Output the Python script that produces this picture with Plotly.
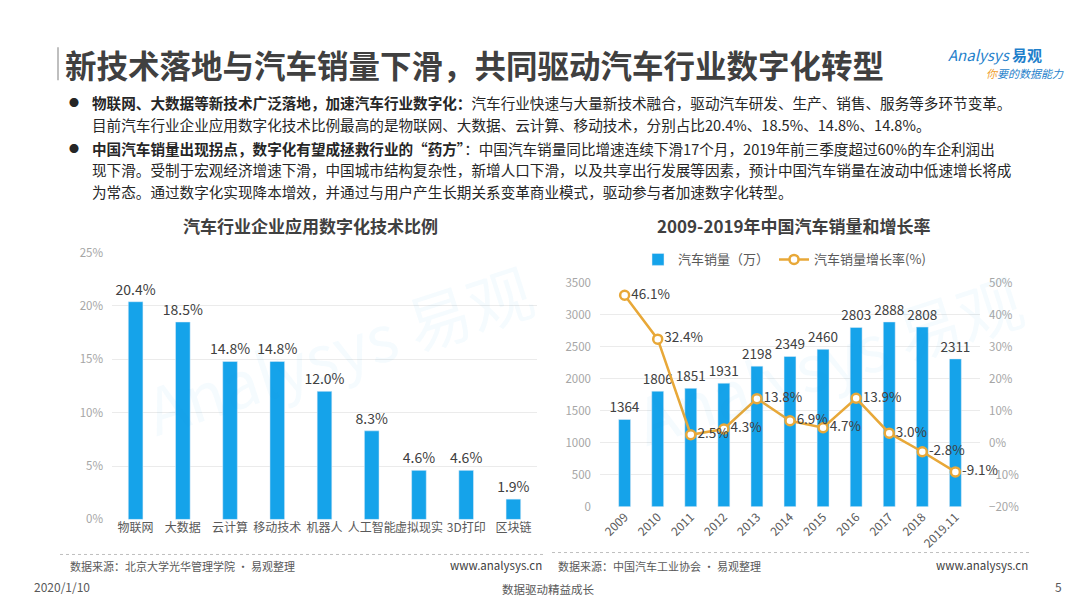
import plotly.graph_objects as go

# 左图数据
tech = ['物联网', '大数据', '云计算', '移动技术', '机器人', '人工智能', '虚拟现实', '3D打印', '区块链']
tech_pct = [20.4, 18.5, 14.8, 14.8, 12.0, 8.3, 4.6, 4.6, 1.9]

# 右图数据
years = ['2009', '2010', '2011', '2012', '2013', '2014', '2015', '2016', '2017', '2018', '2019.11']
sales = [1364, 1806, 1851, 1931, 2198, 2349, 2460, 2803, 2888, 2808, 2311]
growth = [46.1, 32.4, 2.5, 4.3, 13.8, 6.9, 4.7, 13.9, 3.0, -2.8, -9.1]

W, H = 1080, 608
FONT = 'Noto Sans CJK SC'
BLUE = '#15A3EA'
ORANGE = '#E8A838'


def px(x):
    return x / W


def py(y):
    return 1 - y / H


fig = go.Figure()

fig.add_trace(go.Bar(
    x=tech, y=tech_pct, xaxis='x', yaxis='y', marker_color=BLUE, width=0.31,
    text=[f'{v:.1f}%' for v in tech_pct], textposition='outside', cliponaxis=False,
    constraintext='none', textfont=dict(size=14, color='#404040'), showlegend=False
))

fig.add_trace(go.Bar(
    x=years, y=sales, xaxis='x2', yaxis='y2', marker_color=BLUE, width=0.36,
    name='汽车销量（万）', text=[str(v) for v in sales], textposition='outside',
    cliponaxis=False, constraintext='none', textfont=dict(size=13.5, color='#404040')
))

fig.add_trace(go.Scatter(
    x=years, y=growth, xaxis='x2', yaxis='y3', mode='lines+markers+text',
    name='汽车销量增长率(%)', line=dict(color=ORANGE, width=2.5),
    marker=dict(size=9, color='white', line=dict(color=ORANGE, width=2.5)),
    text=[f'{v:.1f}%' for v in growth], textposition='middle right',
    textfont=dict(size=13.5, color='#404040'), cliponaxis=False
))

tickfont = dict(size=11.5, color='#A6A6A6')

fig.update_layout(
    width=W, height=H, margin=dict(l=0, r=0, t=0, b=0),
    paper_bgcolor='white', plot_bgcolor='rgba(0,0,0,0)',
    font=dict(family=FONT, color='#404040'),
    xaxis=dict(domain=[px(104), px(529)], tickangle=0, tickfont=dict(size=12, color='#595959'),
               showline=False, ticks=''),
    yaxis=dict(domain=[py(516), py(242)], range=[0, 25], dtick=5, ticksuffix='%',
               tickfont=tickfont, gridcolor='#EBEBEB', zeroline=False, ticklabelstandoff=8),
    xaxis2=dict(domain=[px(592), px(972)], anchor='y2', tickangle=-45,
                tickfont=dict(size=12, color='#595959'), ticks=''),
    yaxis2=dict(domain=[py(503), py(273)], anchor='x2', range=[0, 3500], dtick=500,
                tickfont=tickfont, gridcolor='#EBEBEB', zeroline=False, ticklabelstandoff=8),
    yaxis3=dict(overlaying='y2', anchor='x2', side='right', range=[-20, 50], dtick=10,
                ticksuffix='%', tickfont=tickfont, showgrid=False, zeroline=False,
                ticklabelstandoff=8),
    legend=dict(orientation='h', x=px(630), y=py(249), yanchor='middle', xanchor='left',
                font=dict(size=13, color='#595959'), bgcolor='rgba(0,0,0,0)'),
)

ann = []


def text(x, y, s, size, color='#404040', xanchor='left', **kw):
    ann.append(dict(x=px(x), y=py(y), xref='paper', yref='paper', text=s, showarrow=False,
                    xanchor=xanchor, yanchor='middle', font=dict(size=size, color=color, family=FONT), **kw))


# 水印
text(330, 340, 'Analysys 易观', 64, 'rgba(21,163,234,0.045)', 'center', textangle=-18)
text(820, 350, 'Analysys 易观', 64, 'rgba(21,163,234,0.045)', 'center', textangle=-18)

# 标题
text(55, 48, '<b>新技术落地与汽车销量下滑，共同驱动汽车行业数字化转型</b>', 31.5, '#404040')
text(1036, 38, '<i>Analysys</i> <b>易观</b>', 15, '#1E7FCB', 'right')
text(1058, 58, '<i><span style="color:#F0A030">你</span>要的数据能力</i>', 11, '#1E7FCB', 'right')

# 要点
lines = [
    (88, '<b>物联网、大数据等新技术广泛落地，加速汽车行业数字化：</b>汽车行业快速与大量新技术融合，驱动汽车研发、生产、销售、服务等多环节变革。'),
    (110, '目前汽车行业企业应用数字化技术比例最高的是物联网、大数据、云计算、移动技术，分别占比20.4%、18.5%、14.8%、14.8%。'),
    (135, '<b>中国汽车销量出现拐点，数字化有望成拯救行业的“药方”</b>：中国汽车销量同比增速连续下滑17个月，2019年前三季度超过60%的车企利润出'),
    (157, '现下滑。受制于宏观经济增速下滑，中国城市结构复杂性，新增人口下滑，以及共享出行发展等因素，预计中国汽车销量在波动中低速增长将成'),
    (179, '为常态。通过数字化实现降本增效，并通过与用户产生长期关系变革商业模式，驱动参与者加速数字化转型。'),
]
for y, s in lines:
    text(82, y, s, 14.6, '#262626')
text(66, 88, '●', 10, '#262626', 'center')
text(66, 135, '●', 10, '#262626', 'center')

# 图表标题
text(302, 214, '<b>汽车行业企业应用数字化技术比例</b>', 17, '#404040', 'center')
text(786, 214, '<b>2009-2019年中国汽车销量和增长率</b>', 17, '#404040', 'center')

# 来源与页脚
text(60, 564, '数据来源：北京大学光华管理学院 · 易观整理', 11, '#595959')
text(536, 563, 'www.analysys.cn', 11.5, '#404040', 'right')
text(548, 564, '数据来源：中国汽车工业协会 · 易观整理', 11, '#595959')
text(1022, 563, 'www.analysys.cn', 11.5, '#404040', 'right')
text(24, 585, '2020/1/10', 12, '#595959')
text(540, 587, '数据驱动精益成长', 11.5, '#595959', 'center')
text(1050, 585, '5', 12, '#595959', 'center')

fig.update_layout(
    annotations=ann,
    shapes=[
        dict(type='line', xref='paper', yref='paper', x0=px(50), x1=px(50), y0=py(31), y1=py(65),
             line=dict(color='#BFBFBF', width=2)),
        dict(type='line', xref='paper', yref='paper', x0=px(52), x1=px(536), y0=py(552), y1=py(552),
             line=dict(color='#BFBFBF', width=1, dash='dot')),
        dict(type='line', xref='paper', yref='paper', x0=px(544), x1=px(1022), y0=py(550), y1=py(550),
             line=dict(color='#BFBFBF', width=1, dash='dot')),
    ],
)

fig.write_html('out.html')
